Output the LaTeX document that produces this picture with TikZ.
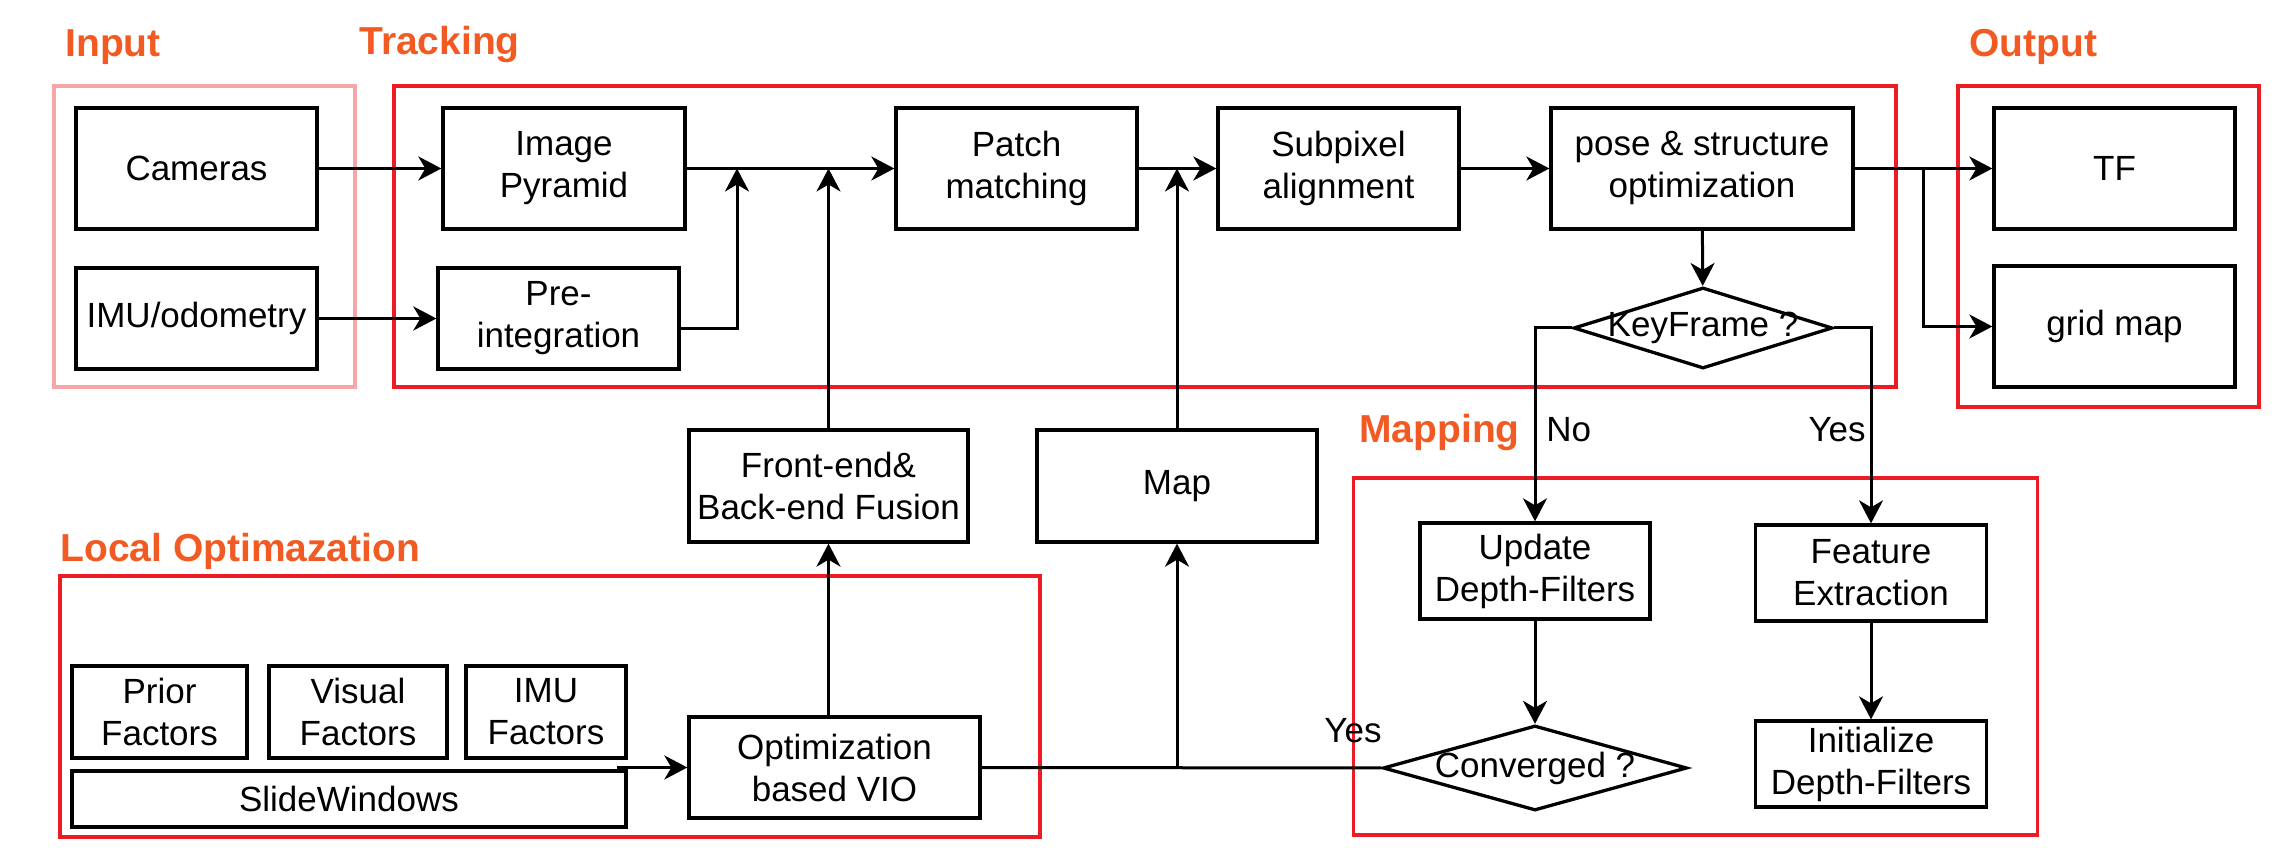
\documentclass[tikz,border=0pt]{standalone}
\usepackage{fontspec}
\setmainfont{Liberation Sans}
\usetikzlibrary{arrows.meta,shapes.geometric}

\definecolor{grpred}{RGB}{237,28,36}
\definecolor{grppink}{RGB}{248,165,168}
\definecolor{grporange}{RGB}{241,90,34}

\newcommand{\boxfont}{\fontsize{17.5}{21}\selectfont}
\newcommand{\grpfont}{\fontsize{19.5}{22}\selectfont\bfseries}

\tikzset{
  blk/.style={draw, line width=1.65pt, inner sep=2pt, align=center, font=\boxfont},
  dec/.style={draw, shape=diamond, line width=1.65pt, inner sep=0pt, font=\boxfont},
  grpbox/.style={draw=grpred, line width=1.6pt},
  grp/.style={text=grporange, font=\grpfont, anchor=base west, inner sep=0pt},
  tag/.style={font=\boxfont, inner sep=0pt},
  wire/.style={line width=1.5pt},
  arr/.style={line width=1.5pt, -{Stealth[length=11.5pt,width=12pt,inset=3.5pt]}},
}

\begin{document}
\begin{tikzpicture}[x=0.5pt,y=0.5pt,yscale=-1]
\useasboundingbox (0,0) rectangle (2276,854);

% group frames
\draw [grpbox, draw=grppink] (54,86) rectangle (355,387);
\draw [grpbox] (394,86) rectangle (1896,387);
\draw [grpbox] (1958,86) rectangle (2259,407);
\draw [grpbox] (1353.5,478) rectangle (2037.5,835);
\draw [grpbox] (60,576) rectangle (1040,837);

% group titles
\node [grp] (tin) at (65,57) {Input};
\node [grp] (ttrk) at (359,55) {Tracking};
\node [grp] (tout) at (1969,57) {Output};
\node [grp] (tmap) at (1359,443) {Mapping};
\node [grp] (tloc) at (60,562) {Local Optimazation};

% input
\node [blk, minimum width=120.5pt, minimum height=60.5pt] (cam) at (196.5,168.5) {Cameras};
\node [blk, minimum width=120.5pt, minimum height=50.5pt] (imu) at (196.5,318.5) {IMU/odometry};

% tracking
\node [blk, minimum width=121pt, minimum height=60.5pt] (pyr) at (564,168.5) {Image\\Pyramid};
\node [blk, minimum width=120.5pt, minimum height=50.5pt] (preint) at (558.5,318.5) {Pre-\\integration};
\node [blk, minimum width=120.5pt, minimum height=60.5pt] (patch) at (1016.5,168.5) {Patch\\matching};
\node [blk, minimum width=120.5pt, minimum height=60.5pt] (subpix) at (1338.5,168.5) {Subpixel\\alignment};
\node [blk, minimum width=151pt, minimum height=60.5pt] (pose) at (1702,168.5) {pose \& structure\\optimization};
\node [dec, minimum width=129.5pt, minimum height=40.5pt] (key) at (1703,328) {\makebox[0pt]{KeyFrame ?}};

% output
\node [blk, minimum width=120.5pt, minimum height=60.5pt] (tf) at (2114.5,168.5) {TF};
\node [blk, minimum width=120.5pt, minimum height=60.5pt] (grid) at (2114.5,326.5) {grid map};

% middle
\node [blk, minimum width=139.5pt, minimum height=56pt] (fusion) at (828.5,486) {Front-end\&\\Back-end Fusion};
\node [blk, minimum width=140pt, minimum height=56pt] (map) at (1177,486) {Map};

% mapping
\node [blk, minimum width=115pt, minimum height=48pt] (upd) at (1535,571) {Update\\Depth-Filters};
\node [blk, minimum width=115.5pt, minimum height=48pt] (feat) at (1871,573) {Feature\\Extraction};
\node [blk, minimum width=115.5pt, minimum height=43pt] (init) at (1871,764) {Initialize\\Depth-Filters};
\node [dec, minimum width=152pt, minimum height=42.5pt] (conv) at (1535,768) {\makebox[0pt]{Converged ?}};

% local optimization
\node [blk, minimum width=87.5pt, minimum height=46pt] (prior) at (159.5,712) {Prior\\Factors};
\node [blk, minimum width=89pt, minimum height=46pt] (visual) at (358,712) {Visual\\Factors};
\node [blk, minimum width=80pt, minimum height=46pt] (imuf) at (546,712) {IMU\\Factors};
\node [blk, minimum width=277pt, minimum height=28pt] (slide) at (349,799) {SlideWindows};
\node [blk, minimum width=145.5pt, minimum height=50.5pt] (vio) at (834.5,767.5) {Optimization\\based VIO};

% branch labels
\node [tag, anchor=west] (lno) at (1546,430) {No};
\node [tag, anchor=east] (lyes) at (1866,430) {Yes};
\node [tag] (lconv) at (1353,731) {Yes};

% junctions
\coordinate (jpre) at (737,168.5);
\coordinate (fac) at (617,767.5);
\coordinate (jout) at (1923,168.5);

% connectors
\draw [arr] (cam) -- (pyr);
\draw [arr] (imu) -- (preint);
\draw [arr] (pyr) -- (patch);
\draw [arr] ([yshift=5pt]preint.east) -| (jpre);
\draw [arr] (fusion.north) -- (fusion.north |- pyr.east);
\draw [arr] (patch) -- (subpix);
\draw [arr] (map.north) -- (map.north |- pyr.east);
\draw [arr] (subpix) -- (pose);
\draw [arr] (pose) -- (tf);
\draw [arr] (jout) |- (grid.west);
\draw [arr] (pose) -- (key);
\draw [arr] (key.west) -| (upd.north);
\draw [arr] (key.east) -| (feat.north);
\draw [arr] (upd) -- (conv);
\draw [arr] (feat) -- (init);
\draw [wire] (vio.east) -- (conv.west);
\draw [arr] (map.south |- vio.east) -- (map.south);
\draw [arr] (fusion.south |- vio.north) -- (fusion.south);
\draw [arr] (fac) -- (vio.west);

\end{tikzpicture}
\end{document}
